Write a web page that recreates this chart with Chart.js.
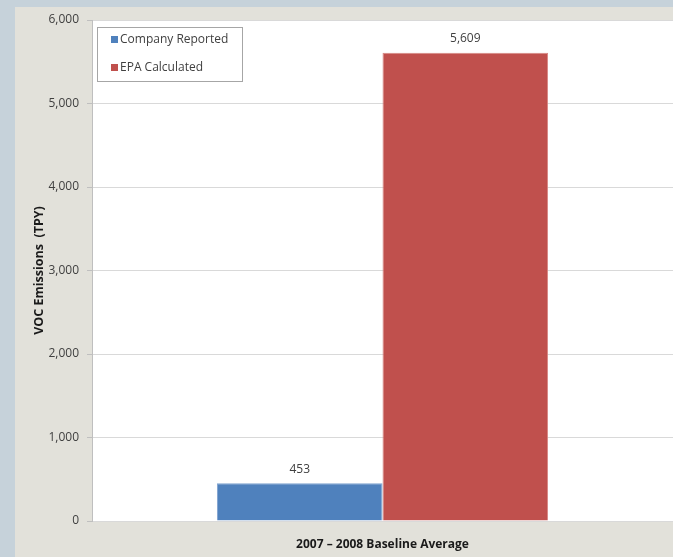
<!DOCTYPE html>
<html>
<head>
<meta charset="utf-8">
<script src="https://cdn.jsdelivr.net/npm/chart.js@4/dist/chart.umd.min.js"></script>
<style>
  html, body { margin: 0; padding: 0; background: #c6d2da; }
  #wrap { position: relative; width: 673px; height: 557px; }
  canvas { display: block; }
</style>
</head>
<body>
<div id="wrap"><canvas id="c" width="673" height="557"></canvas></div>
<script>
const categories = ["2007 \u2013 2008 Baseline Average"];
const seriesNames = ["Company Reported", "EPA Calculated"];
const companyReported = [453];
const epaCalculated = [5609];
const yTicks = [0, 1000, 2000, 3000, 4000, 5000, 6000];
const yAxisTitle = "VOC Emissions  (TPY)";

const FONT = "'Open Sans', 'Liberation Sans', sans-serif";

const bgPlugin = {
  id: 'bg',
  beforeDraw(chart) {
    const ctx = chart.ctx, a = chart.chartArea;
    ctx.save();
    ctx.fillStyle = '#c6d2da';
    ctx.fillRect(0, 0, chart.width, chart.height);
    ctx.fillStyle = '#e2e1da';
    ctx.fillRect(15, 7, chart.width - 15, chart.height - 7);
    ctx.fillStyle = '#ffffff';
    ctx.fillRect(a.left, a.top, a.right - a.left, a.bottom - a.top);
    ctx.restore();
  }
};

const labelPlugin = {
  id: 'vals',
  afterDatasetsDraw(chart) {
    const ctx = chart.ctx;
    ctx.save();
    ctx.font = "12px " + FONT;
    ctx.fillStyle = '#404040';
    ctx.textAlign = 'center';
    ctx.textBaseline = 'middle';
    chart.data.datasets.forEach((ds, i) => {
      chart.getDatasetMeta(i).data.forEach((bar, j) => {
        ctx.fillText(ds.data[j].toLocaleString('en-US'), bar.x, bar.y - 14);
      });
    });
    ctx.restore();
  }
};

const legendPlugin = {
  id: 'customLegend',
  afterDraw(chart) {
    const ctx = chart.ctx;
    const a = chart.chartArea;
    const x0 = a.left + 5, y0 = a.top + 7, w = 145, h = 54;
    ctx.save();
    ctx.fillStyle = '#ffffff';
    ctx.fillRect(x0, y0, w, h);
    ctx.strokeStyle = '#a6a6a6';
    ctx.lineWidth = 1;
    ctx.strokeRect(x0 + 0.5, y0 + 0.5, w, h);
    ctx.font = "12px " + FONT;
    ctx.textBaseline = 'middle';
    ctx.textAlign = 'left';
    chart.data.datasets.forEach((ds, i) => {
      const cy = y0 + 13 + i * 28;
      ctx.fillStyle = ds.backgroundColor;
      ctx.fillRect(x0 + 14, cy - 4, 7, 7);
      ctx.fillStyle = '#404040';
      ctx.fillText(ds.label, x0 + 23, cy);
    });
    ctx.restore();
  }
};

new Chart(document.getElementById('c'), {
  type: 'bar',
  data: {
    labels: categories,
    datasets: [
      { label: seriesNames[0], data: companyReported, backgroundColor: '#4f81bd', borderColor: '#7fa3d0', borderWidth: 1 },
      { label: seriesNames[1], data: epaCalculated, backgroundColor: '#c0504d', borderColor: '#d88683', borderWidth: 1 }
    ]
  },
  options: {
    responsive: false,
    animation: false,
    devicePixelRatio: 1,
    layout: { padding: { top: 20, right: 0, left: 0, bottom: 0 } },
    plugins: { legend: { display: false }, tooltip: { enabled: false } },
    datasets: { bar: { categoryPercentage: 0.57, barPercentage: 1.0 } },
    scales: {
      x: {
        grid: { display: false },
        border: { display: true, color: '#d9d9d9' },
        ticks: { color: '#1a1a1a', font: { family: FONT, size: 12, weight: 'bold' }, padding: 8 },
        afterFit(s) { s.height = 36; }
      },
      y: {
        min: 0, max: 6000,
        afterBuildTicks(s) { s.ticks = yTicks.map(v => ({ value: v })); },
        grid: { color: '#d9d9d9', tickColor: '#bfbfbf', tickLength: 5 },
        border: { display: true, color: '#bfbfbf' },
        ticks: {
          color: '#404040', padding: 8,
          font: { family: FONT, size: 12 },
          callback: v => v.toLocaleString('en-US')
        },
        title: {
          display: true, text: yAxisTitle, color: '#1a1a1a',
          font: { family: FONT, size: 12.5, weight: 'bold' },
          padding: { top: 32, bottom: 0 }
        },
        afterFit(s) { s.width = 92; }
      }
    }
  },
  plugins: [bgPlugin, labelPlugin, legendPlugin]
});
</script>
</body>
</html>
